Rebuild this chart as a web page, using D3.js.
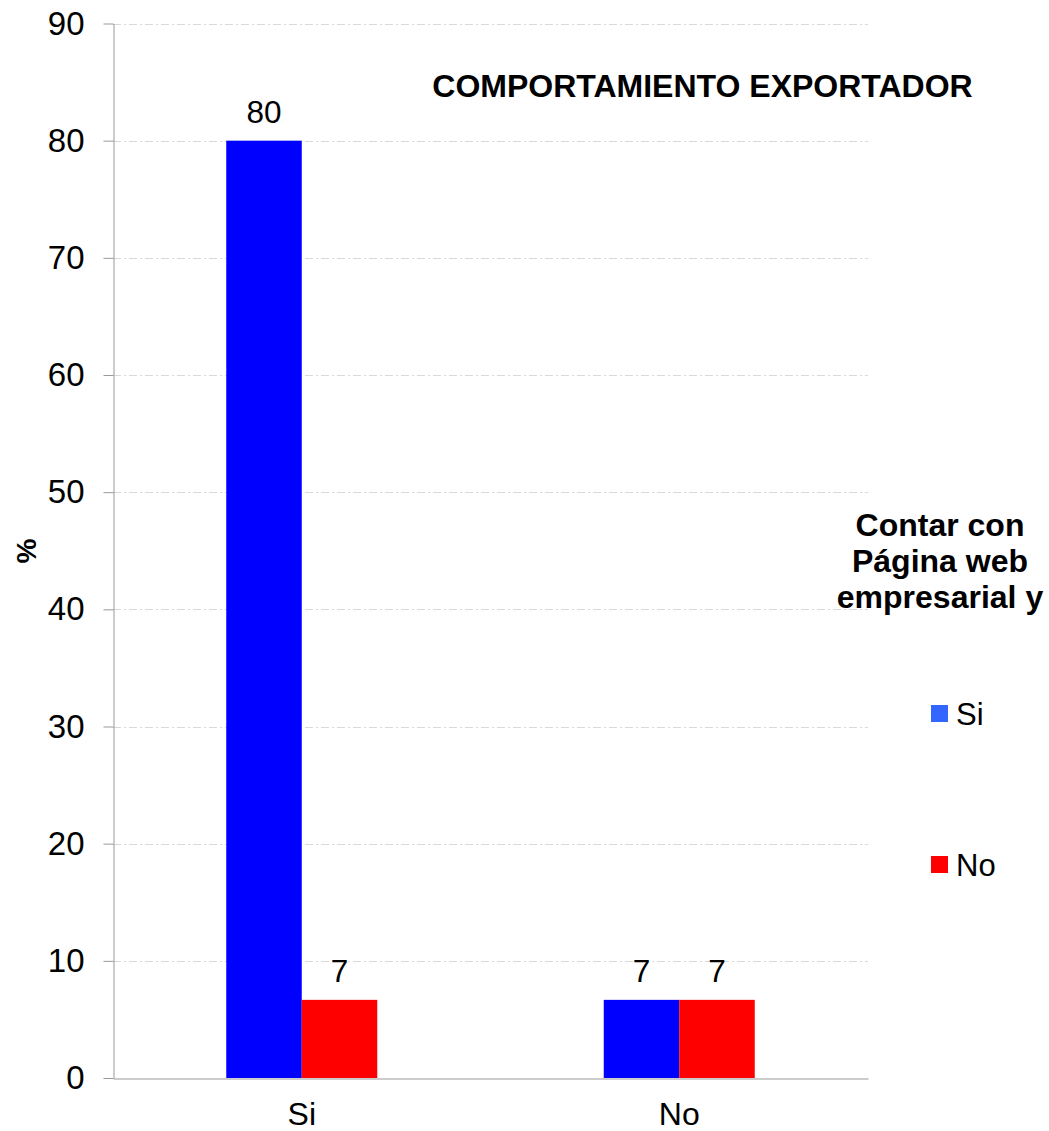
<!DOCTYPE html>
<html><head><meta charset="utf-8">
<script src="https://cdn.jsdelivr.net/npm/d3@7"></script>
<style>body{margin:0;background:#fff}svg{display:block}text{font-family:"Liberation Sans",Arial,sans-serif}</style>
</head><body>
<svg id="c" width="1049" height="1131"></svg>
<script>
const categories = ["Si", "No"];
const seriesNames = ["Si", "No"];
const valuesSi = [80, 6.67];
const valuesNo = [6.67, 6.67];
const valueLabels = [["80", "7"], ["7", "7"]];
const yTicks = [0, 10, 20, 30, 40, 50, 60, 70, 80, 90];
const barColors = ["#0000FF", "#FF0000"];
const legendColors = ["#3366FF", "#FF0000"];
const chartTitle = "COMPORTAMIENTO EXPORTADOR";
const legendTitle = ["Contar con", "Página web", "empresarial y"];
const yTitle = "%";

const svg = d3.select("#c");
const L = 113, R = 868, T = 23.5, B = 1078;
const y = d3.scaleLinear().domain([0, 90]).range([B, T]);
const x0 = d3.scaleBand().domain(categories).range([L, R]).paddingInner(0.6).paddingOuter(0.3);
const x1 = d3.scaleBand().domain(seriesNames).range([0, x0.bandwidth()]);

// gridlines
svg.append("g").selectAll("line").data(yTicks.filter(d => d > 0)).join("line")
  .attr("x1", L).attr("x2", R).attr("y1", d => Math.round(y(d)) + 0.5).attr("y2", d => Math.round(y(d)) + 0.5)
  .attr("stroke", "#d9d9d9").attr("stroke-width", 1).attr("stroke-dasharray", "8,3,2,3");

// bars
const data = categories.map((c, i) => ({cat: c, vals: [valuesSi[i], valuesNo[i]], labels: valueLabels[i]}));
const g = svg.append("g");
data.forEach(d => {
  seriesNames.forEach((s, j) => {
    const bx = x0(d.cat) + x1(s);
    g.append("rect").attr("x", bx).attr("width", x1.bandwidth())
      .attr("y", y(d.vals[j])).attr("height", B - y(d.vals[j])).attr("fill", barColors[j]);
    g.append("text").attr("x", bx + x1.bandwidth() / 2).attr("y", y(d.vals[j]) - 18)
      .attr("text-anchor", "middle").attr("font-size", 31.5).attr("fill", "#000").text(d.labels[j]);
  });
});

// y axis
const yAxis = d3.axisLeft(y).tickValues(yTicks).tickSize(10).tickPadding(19).tickSizeOuter(0);
const ya = svg.append("g").attr("transform", `translate(${L + 0.5},0)`).call(yAxis);
ya.select(".domain").attr("stroke", "#999");
ya.selectAll(".tick line").attr("stroke", "#999");
ya.selectAll(".tick text").attr("font-size", 33).attr("fill", "#000").attr("font-family", "Liberation Sans, Arial, sans-serif");

// x axis
const xAxis = d3.axisBottom(x0).tickSize(0).tickPadding(24).tickSizeOuter(0);
const xa = svg.append("g").attr("transform", `translate(0,${B + 0.5})`).call(xAxis);
xa.select(".domain").attr("stroke", "#999");
xa.selectAll(".tick text").attr("font-size", 32).attr("fill", "#000").attr("font-family", "Liberation Sans, Arial, sans-serif");

// title
svg.append("text").attr("x", 702.5).attr("y", 97).attr("text-anchor", "middle")
  .attr("font-size", 32).attr("font-weight", "bold").text(chartTitle);

// y title
svg.append("text").attr("transform", "translate(36,551) rotate(-90)").attr("text-anchor", "middle")
  .attr("font-size", 28).attr("font-weight", "bold").text(yTitle);

// legend title
svg.append("g").selectAll("text").data(legendTitle).join("text")
  .attr("x", 940).attr("y", (d, i) => 536 + i * 36).attr("text-anchor", "middle")
  .attr("font-size", 32).attr("font-weight", "bold").text(d => d);

// legend items
const leg = svg.append("g").selectAll("g").data(seriesNames).join("g")
  .attr("transform", (d, i) => `translate(931,${705 + i * 151})`);
leg.append("rect").attr("width", 17).attr("height", 17).attr("fill", (d, i) => legendColors[i]);
leg.append("text").attr("x", 25).attr("y", 20).attr("font-size", 31).text(d => d);
</script>
</body></html>
